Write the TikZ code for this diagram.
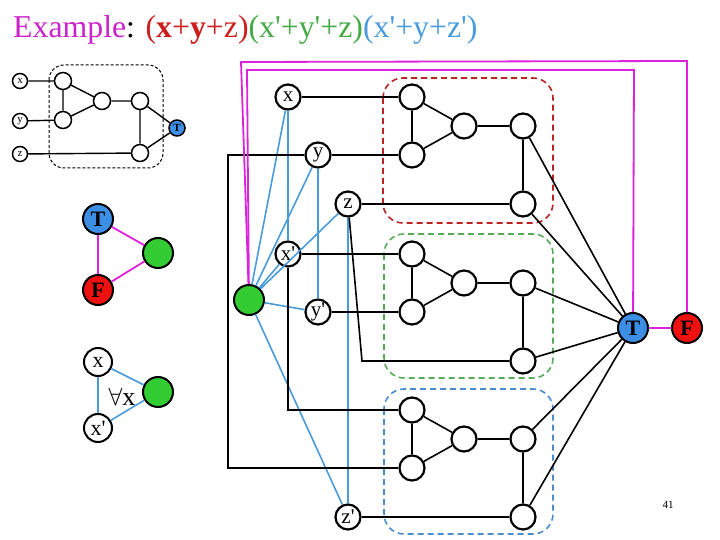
\documentclass[tikz,border=0pt]{standalone}
\usepackage{fontspec}
\setmainfont[Ligatures=TeXOff]{Liberation Serif}
\definecolor{mag}{HTML}{DD22DD}
\definecolor{tblue}{HTML}{3D8FE6}
\definecolor{tgreen}{HTML}{33CC33}
\definecolor{tred}{HTML}{EE1111}
\definecolor{lblue}{HTML}{4A9BDB}
\definecolor{dred}{HTML}{BB2222}
\definecolor{dgreen}{HTML}{55AA55}
\definecolor{dblue}{HTML}{4A8CCC}
\definecolor{ttlred}{HTML}{CC1E1E}
\definecolor{ttlgreen}{HTML}{44AA44}
\definecolor{ttlblue}{HTML}{4A9BDD}
\definecolor{ttlmag}{HTML}{CC22CC}
\begin{document}
\begin{tikzpicture}[x=1pt,y=-1pt,
  gn/.style={circle,draw,line width=2.2pt,minimum size=25pt,inner sep=0pt,fill=white,font=\fontsize{21}{21}\selectfont},
  sn/.style={circle,draw,line width=1.5pt,minimum size=15pt,inner sep=0pt,fill=white,font=\fontsize{11}{11}\selectfont},
  bn/.style={circle,draw,line width=2pt,minimum size=30pt,inner sep=0pt,font=\fontsize{22}{22}\selectfont\bfseries},
  ln/.style={circle,draw,line width=2pt,minimum size=28pt,inner sep=0pt,fill=white,font=\fontsize{22}{22}\selectfont},
  blk/.style={line width=1.6pt,black},
  sblk/.style={line width=1.4pt,black},
  blu/.style={line width=1.6pt,lblue},
  mg/.style={line width=1.8pt,mag},
  gbox/.style={line width=1.6pt,dash pattern=on 6pt off 4pt,rounded corners=20pt}
]
\useasboundingbox (0,0) rectangle (720,540);
% title
\node[anchor=base west,inner sep=0pt,font=\fontsize{31.8}{32}\selectfont] (title) at (13,38)
 {\textcolor{ttlmag}{Example}: \textcolor{ttlred}{(\textbf{x}+\textbf{y}+z)}\textcolor{ttlgreen}{(x'+y'+z)}\textcolor{ttlblue}{(x'+y+z')}};
% small gadget
\draw[line width=1pt,dash pattern=on 3pt off 2pt,rounded corners=15pt] (49,65) rectangle (163,168);
\node[sn] (sx) at (20,81) {x};
\node[sn] (sy) at (20,121) {y};
\node[sn] (sz) at (20,154) {z};
\node[sn,minimum size=17pt] (sa1) at (63,81) {};
\node[sn,minimum size=17pt] (sa2) at (63,120) {};
\node[sn,minimum size=17pt] (sa3) at (102,101) {};
\node[sn,minimum size=17pt] (sb1) at (140,101) {};
\node[sn,minimum size=17pt] (sb2) at (140,153) {};
\node[sn,minimum size=16pt,fill=tblue,font=\fontsize{11}{11}\selectfont\bfseries] (sT) at (177,128) {T};
\draw[sblk] (sx)--(sa1) (sy)--(sa2) (sz)--(sb2) (sa1)--(sa2) (sa1)--(sa3) (sa2)--(sa3) (sa3)--(sb1) (sb1)--(sb2) (sb1)--(sT) (sb2)--(sT);
% left T F
\node[bn,fill=tblue] (LT) at (98,219) {T};
\node[bn,fill=tgreen] (LG) at (158,253) {};
\node[bn,fill=tred] (LF) at (98,290) {F};
\draw[mg] (LT)--(LG) (LG)--(LF) (LT)--(LF);
% left x x'
\node[ln] (Lx) at (98,362) {x};
\node[ln] (Lxp) at (98,428) {x'};
\node[bn,fill=tgreen] (LG2) at (158,392) {};
\node[font=\fontsize{26}{26}\selectfont,inner sep=0pt] (fa) at (122,397) {$\forall$x};
\draw[blu] (Lx)--(LG2) (Lxp)--(LG2) (Lx)--(Lxp);
% gadget boxes
\draw[gbox,dred] (383,78) rectangle (553,223);
\draw[gbox,dgreen] (384,234) rectangle (553,378);
\draw[gbox,dblue] (384,389) rectangle (553,534);
% T F right
\node[bn,fill=tblue] (T2) at (633,328) {T};
\node[bn,fill=tred] (F2) at (687,328) {F};
% gadgets
\foreach \n/\yy in {r/97,g/254,b/410}{
  \node[gn] (\n a) at (412,\yy) {};
  \node[gn] (\n b) at (412,{\yy+58}) {};
  \node[gn] (\n c) at (464,{\yy+29}) {};
  \node[gn] (\n d) at (523,{\yy+29}) {};
  \node[gn] (\n e) at (523,{\yy+107}) {};
  \draw[blk] (\n a)--(\n b) (\n a)--(\n c) (\n b)--(\n c) (\n c)--(\n d) (\n d)--(\n e) (\n d)--(T2) (\n e)--(T2);
}
% variables
\node[gn] (X) at (288,97) {x};
\node[gn] (Y) at (318,155) {y};
\node[gn] (Z) at (348,204) {z};
\node[gn] (XP) at (288,254) {x'};
\node[gn] (YP) at (318,312) {y'};
\node[gn] (ZP) at (348,517) {z'};
\node[bn,fill=tgreen] (G) at (249,300) {};
% blue lines
\draw[blu] (G)--(X) (G)--(Y) (G)--(Z) (G)--(XP) (G)--(YP) (G)--(ZP) (X)--(XP) (Y)--(YP) (Z)--(ZP);
% black lines
\draw[blk] (X)--(ra) (Y)--(rb) (Z)--(re) (XP)--(ga) (YP)--(gb) (ZP)--(be);
\draw[blk] (Y)--(228,155)--(228,468)--(bb);
\draw[blk] (XP)--(288,410)--(ba);
\draw[blk] (Z)--(362,361)--(ge);
% magenta lines
\draw[mg] (F2)--(687,61)--(241,62)--(G);
\draw[mg] (T2)--(634,70)--(247,70)--(G);
\draw[mg] (T2)--(F2);
% page number
\node[font=\fontsize{11}{11}\selectfont] (pg) at (668,505) {41};
\end{tikzpicture}
\end{document}
